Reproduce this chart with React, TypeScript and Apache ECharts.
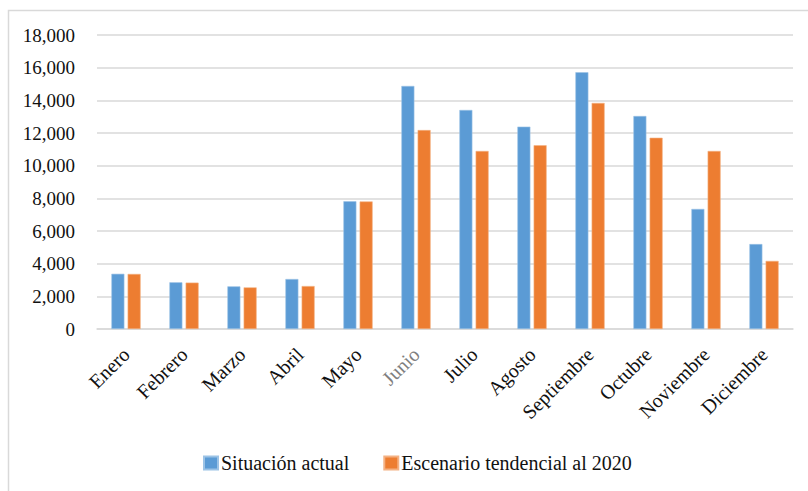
import React, { useEffect, useRef } from "react";
import * as echarts from "echarts";

const categories = ["Enero", "Febrero", "Marzo", "Abril", "Mayo", "Junio", "Julio", "Agosto", "Septiembre", "Octubre", "Noviembre", "Diciembre"];
const situacionActual = [3380, 2860, 2610, 3060, 7820, 14880, 13410, 12390, 15720, 13040, 7350, 5200];
const escenario2020 = [3370, 2840, 2550, 2630, 7810, 12180, 10900, 11250, 13840, 11710, 10900, 4170];
const seriesNames = ["Situación actual", "Escenario tendencial al 2020"];

const FONT = "'Liberation Serif', 'DejaVu Serif', serif";

export default function App() {
  const ref = useRef<HTMLDivElement>(null);
  useEffect(() => {
    document.body.style.margin = "0";
    const chart = echarts.init(ref.current!, null, { renderer: "svg" });
    chart.setOption({
      animation: false,
      backgroundColor: "#ffffff",
      textStyle: { fontFamily: FONT },
      graphic: [
        {
          type: "rect",
          shape: { x: 8.5, y: 10.5, width: 820, height: 500 },
          style: { fill: "none", stroke: "#d9d9d9", lineWidth: 1.5 },
          silent: true,
        },
      ],
      grid: { left: 97, right: 15, top: 35, bottom: 162 },
      xAxis: {
        type: "category",
        data: categories.map((c) =>
          c === "Junio" ? { value: c, textStyle: { color: "#7f7f7f" } } : c
        ),
        axisLine: { show: true, lineStyle: { color: "#d9d9d9", width: 1.5 } },
        axisTick: { show: false },
        axisLabel: {
          rotate: 45,
          interval: 0,
          margin: 22,
          color: "#111",
          fontSize: 20,
          fontFamily: FONT,
        },
      },
      yAxis: {
        type: "value",
        min: 0,
        max: 18000,
        interval: 2000,
        axisLine: { show: false },
        axisTick: { show: false },
        splitLine: { lineStyle: { color: "#d9d9d9", width: 1.5 } },
        axisLabel: {
          margin: 22,
          color: "#111",
          fontSize: 19,
          fontFamily: FONT,
          formatter: (v: number) => v.toLocaleString("en-US"),
        },
      },
      legend: {
        data: seriesNames,
        left: 203,
        top: 453,
        padding: 0,
        itemWidth: 14,
        itemHeight: 13,
        itemGap: 34,
        icon: "rect",
        textStyle: { fontSize: 20, color: "#111", fontFamily: FONT, padding: [0, 0, 0, -2] },
      },
      series: [
        {
          name: seriesNames[0],
          type: "bar",
          data: situacionActual,
          barWidth: 13,
          barGap: "25%",
          itemStyle: { color: "#5b9bd5", borderColor: "#9cc3e6", borderWidth: 0.6 },
        },
        {
          name: seriesNames[1],
          type: "bar",
          data: escenario2020,
          barWidth: 13,
          itemStyle: { color: "#ed7d31", borderColor: "#f4b183", borderWidth: 0.6 },
        },
      ],
    });
    return () => chart.dispose();
  }, []);
  return <div ref={ref} style={{ width: 808, height: 491 }} />;
}
